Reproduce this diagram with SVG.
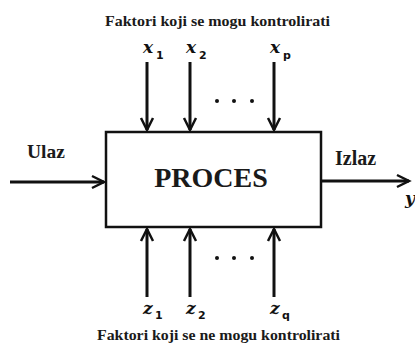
<svg xmlns="http://www.w3.org/2000/svg" width="415" height="343" viewBox="0 0 415 343">
<style>
.t{font-family:"Liberation Serif","Times New Roman",serif;font-weight:bold;fill:#1a1a1a}
.v{font-family:"DejaVu Serif","Liberation Serif",serif;font-style:italic;font-weight:bold;font-size:17px;fill:#111}
.s{font-family:"DejaVu Sans","Liberation Sans",sans-serif;font-weight:bold;font-size:11px;fill:#111}
.ln{stroke:#111;stroke-width:3;fill:none}
.hd{stroke:#111;stroke-width:2.5;fill:none;stroke-linejoin:miter}
</style>
<rect width="415" height="343" fill="#fff"/>
<text class="t" x="217.5" y="26" font-size="14.5" text-anchor="middle" textLength="225" lengthAdjust="spacingAndGlyphs">Faktori koji se mogu kontrolirati</text>
<text class="t" x="218.5" y="340" font-size="14.5" text-anchor="middle" textLength="243" lengthAdjust="spacingAndGlyphs">Faktori koji se ne mogu kontrolirati</text>
<g id="proces">
<rect x="106" y="132" width="215" height="95" fill="#fff" stroke="#111" stroke-width="2.5"/>
<text class="t" x="211" y="187" font-size="28" text-anchor="middle">PROCES</text>
</g>
<g id="labels">
<text class="t" x="27" y="158" font-size="19.5">Ulaz</text>
<text class="t" x="335" y="165" font-size="20">Izlaz</text>
<text class="v" x="405" y="204">y</text>
<text class="v" x="143" y="53">x</text><text class="s" x="156" y="59">1</text>
<text class="v" x="186" y="53">x</text><text class="s" x="199" y="59">2</text>
<text class="v" x="270" y="53">x</text><text class="s" x="283" y="59">p</text>
<text class="v" x="143" y="314">z</text><text class="s" x="155" y="319">1</text>
<text class="v" x="186" y="314">z</text><text class="s" x="198" y="319">2</text>
<text class="v" x="270" y="314">z</text><text class="s" x="282" y="319">q</text>
</g>
<g id="dots" fill="#111">
<circle cx="217" cy="101" r="2"/><circle cx="234" cy="101" r="2"/><circle cx="252" cy="101" r="2"/>
<circle cx="217" cy="258" r="2"/><circle cx="234" cy="258" r="2"/><circle cx="252" cy="258" r="2"/>
</g>
<g id="connectors">
<line class="ln" x1="10" y1="182" x2="104" y2="182"/><path class="hd" d="M92,176 L104,182 L92,188"/>
<line class="ln" x1="321" y1="181" x2="409" y2="181"/><path class="hd" d="M397,175 L409,181 L397,187"/>
<line class="ln" x1="147" y1="62" x2="147" y2="130"/><path class="hd" d="M141,118 L147,130 L153,118"/>
<line class="ln" x1="190" y1="62" x2="190" y2="130"/><path class="hd" d="M184,118 L190,130 L196,118"/>
<line class="ln" x1="274" y1="62" x2="274" y2="130"/><path class="hd" d="M268,118 L274,130 L280,118"/>
<line class="ln" x1="147" y1="297" x2="147" y2="229"/><path class="hd" d="M141,241 L147,229 L153,241"/>
<line class="ln" x1="190" y1="297" x2="190" y2="229"/><path class="hd" d="M184,241 L190,229 L196,241"/>
<line class="ln" x1="274" y1="297" x2="274" y2="229"/><path class="hd" d="M268,241 L274,229 L280,241"/>
</g>
</svg>
